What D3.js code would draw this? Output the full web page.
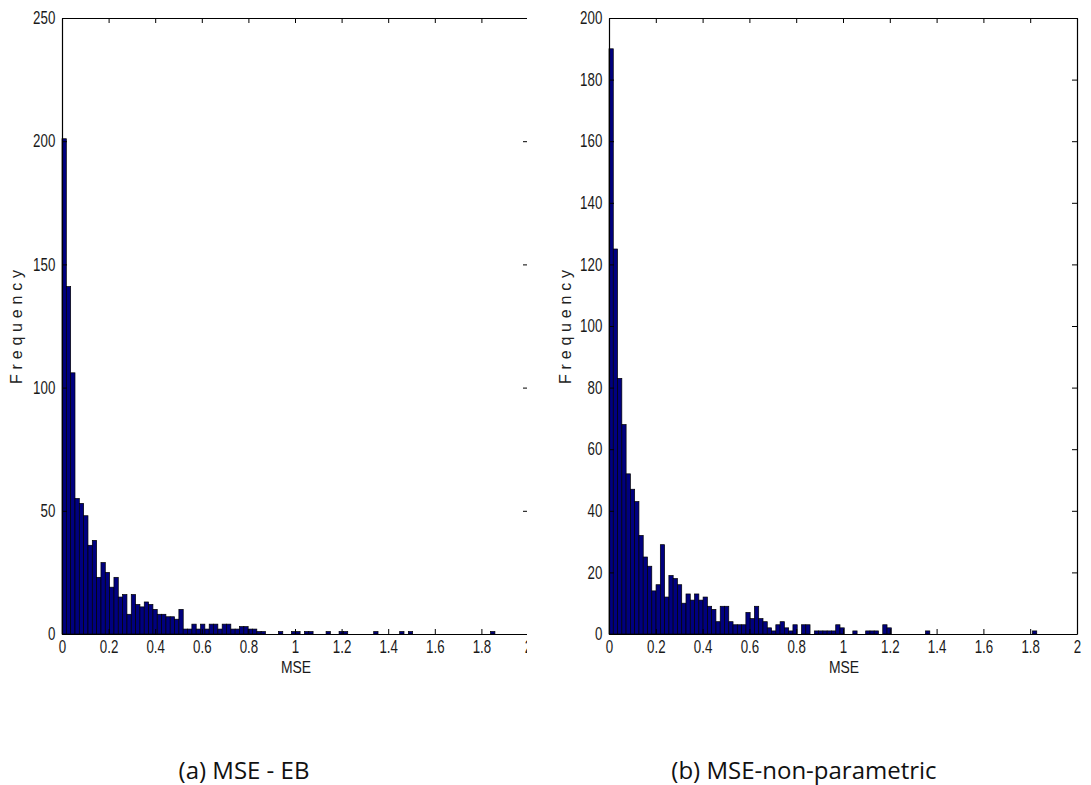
<!DOCTYPE html>
<html>
<head>
<meta charset="utf-8">
<script src="https://cdn.jsdelivr.net/npm/d3@7"></script>
<style>
  body { margin: 0; background: #fff; }
  svg { display: block; }
  .tick text { font-family: "Liberation Sans", Arial, sans-serif; font-size: 18px; fill: #1a1a1a; }
  .domain, .tick line { stroke: #000; }
</style>
</head>
<body>
<svg width="1091" height="785"></svg>
<script>
  // histogram counts (100 bins each)
  const ebCounts = [
    201, 141, 106, 55, 53, 48, 36, 38, 23, 29,
    25, 19, 23, 15, 16, 8, 16, 12, 11, 13,
    12, 10, 8, 8, 7, 7, 6, 10, 2, 2,
    4, 2, 4, 2, 4, 4, 2, 4, 4, 2,
    2, 3, 3, 2, 2, 1, 1, 0, 0, 0,
    1, 0, 0, 1, 1, 0, 1, 1, 0, 0,
    0, 1, 0, 0, 1, 1, 0, 0, 0, 0,
    0, 0, 1, 0, 0, 0, 0, 0, 1, 0,
    1, 0, 0, 0, 0, 0, 0, 0, 0, 0,
    0, 0, 0, 0, 0, 0, 0, 0, 0, 1
  ];
  const npCounts = [
    190, 125, 83, 68, 52, 47, 43, 32, 25, 22,
    14, 16, 29, 12, 19, 18, 16, 10, 13, 11,
    13, 11, 12, 9, 8, 4, 9, 9, 4, 3,
    3, 3, 7, 5, 9, 5, 4, 2, 1, 3,
    4, 2, 1, 3, 0, 3, 3, 0, 1, 1,
    1, 1, 1, 3, 2, 0, 0, 1, 0, 0,
    1, 1, 1, 0, 3, 2, 0, 0, 0, 0,
    0, 0, 0, 0, 1, 0, 0, 0, 0, 0,
    0, 0, 0, 0, 0, 0, 0, 0, 0, 0,
    0, 0, 0, 0, 0, 0, 0, 0, 0, 1
  ];
  // largest MSE in each sample (right edge of the last bin)
  const ebMax = 1.858;
  const npMax = 1.828;

  const xTicks = [0, 0.2, 0.4, 0.6, 0.8, 1, 1.2, 1.4, 1.6, 1.8, 2];
  const ebYTicks = [0, 50, 100, 150, 200, 250];
  const npYTicks = [0, 20, 40, 60, 80, 100, 120, 140, 160, 180, 200];

  const panels = [
    { counts: ebCounts, max: ebMax, yTicks: ebYTicks, left: 62, right: 528, clip: 527,
      ylabX: 22, caption: "(a) MSE - EB", capX: 244 },
    { counts: npCounts, max: npMax, yTicks: npYTicks, left: 609, right: 1077, clip: 1091,
      ylabX: 571, caption: "(b) MSE-non-parametric", capX: 804 }
  ];

  const plotTop = 18;
  const plotBottom = 634;
  const narrow = "scale(0.74,1)"; // matlab's tick font is tall and narrow
  const svg = d3.select("svg");

  panels.forEach((p, idx) => {
    const x = d3.scaleLinear().domain([0, 2]).range([p.left, p.right]);
    const y = d3.scaleLinear().domain([0, d3.max(p.yTicks)]).range([plotBottom, plotTop]);
    const binW = p.max / p.counts.length;

    // the left figure was cropped right at its right border
    svg.append("clipPath").attr("id", "clip" + idx)
      .append("rect").attr("x", p.left - 40).attr("y", 0)
      .attr("width", p.clip - p.left + 40).attr("height", 700);

    const g = svg.append("g").attr("clip-path", `url(#clip${idx})`);

    g.append("g").selectAll("rect")
      .data(p.counts.map((c, i) => ({ x0: i * binW, x1: (i + 1) * binW, n: c })).filter(d => d.n > 0))
      .join("rect")
      .attr("x", d => x(d.x0))
      .attr("width", d => x(d.x1) - x(d.x0))
      .attr("y", d => y(d.n))
      .attr("height", d => y(0) - y(d.n))
      .attr("fill", "#00007f")
      .attr("stroke", "#000")
      .attr("stroke-width", 0.7);

    // axes, ticks pointing inward like matlab
    g.append("g")
      .attr("transform", `translate(0,${plotBottom})`)
      .call(d3.axisBottom(x).tickValues(xTicks).tickSize(-5).tickSizeOuter(0).tickPadding(6)
        .tickFormat(d3.format("")))
      .call(a => a.selectAll(".tick text").attr("transform", narrow));
    g.append("g")
      .attr("transform", `translate(0,${plotTop})`)
      .call(d3.axisTop(x).tickValues(xTicks).tickSize(-5).tickSizeOuter(0).tickFormat(""));
    g.append("g")
      .attr("transform", `translate(${p.left},0)`)
      .call(d3.axisLeft(y).tickValues(p.yTicks).tickSize(-5).tickSizeOuter(0).tickPadding(9))
      .call(a => a.selectAll(".tick text").attr("transform", narrow));
    g.append("g")
      .attr("transform", `translate(${p.right},0)`)
      .call(d3.axisRight(y).tickValues(p.yTicks).tickSize(-5).tickSizeOuter(0).tickFormat(""));

    g.selectAll(".domain").attr("stroke-width", 1.2);

    svg.append("text")
      .attr("transform", `translate(${p.ylabX},${(plotTop + plotBottom) / 2 + 1}) rotate(-90)`)
      .attr("text-anchor", "middle")
      .attr("textLength", 114)
      .attr("lengthAdjust", "spacing")
      .style("font", "16px 'Liberation Sans', Arial, sans-serif")
      .attr("fill", "#222")
      .text("Frequency");

    svg.append("text")
      .attr("transform", `translate(${(p.left + p.right) / 2 + 1},673) scale(0.82,1)`)
      .attr("text-anchor", "middle")
      .style("font", "17px 'Liberation Sans', Arial, sans-serif")
      .attr("fill", "#1a1a1a")
      .text("MSE");

    svg.append("text")
      .attr("x", p.capX)
      .attr("y", 779)
      .attr("text-anchor", "middle")
      .style("font", "24px 'Open Sans', sans-serif")
      .attr("fill", "#111")
      .text(p.caption);
  });
</script>
</body>
</html>
